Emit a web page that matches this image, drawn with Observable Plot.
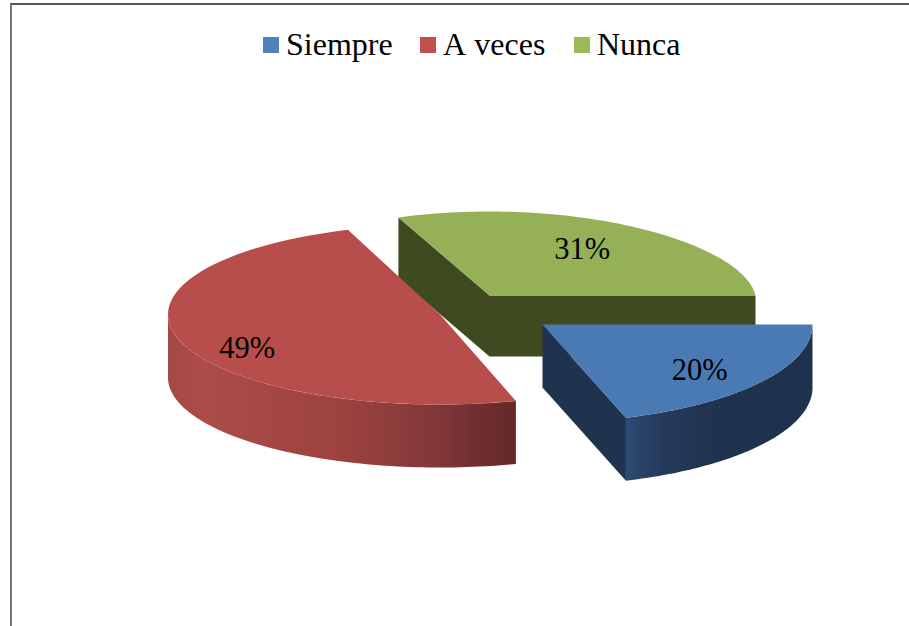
<!DOCTYPE html>
<html lang="es">
<head>
<meta charset="utf-8">
<script src="https://cdn.jsdelivr.net/npm/d3@7"></script>
<script src="https://cdn.jsdelivr.net/npm/@observablehq/plot@0.6"></script>
<style>
  html, body { margin: 0; padding: 0; background: #fff; }
  #page { position: relative; width: 909px; height: 626px; overflow: hidden; font-family: "Liberation Serif", serif; }
  #frame { position: absolute; left: 10px; top: 3px; width: 910px; height: 640px; border-left: 2px solid #777; border-top: 2px solid #555; box-sizing: border-box; pointer-events: none; }
  #legend { height: 70px; box-sizing: border-box; position: relative; }
  .item { position: absolute; top: 26px; display: flex; align-items: flex-start; font-size: 32px; line-height: 37px; word-spacing: 2px; color: #000; white-space: nowrap; }
  .swatch { width: 16px; height: 16px; margin-top: 11px; margin-right: 7px; }
  svg { display: block; }
</style>
</head>
<body>
<div id="page">
  <div id="legend"></div>
  <div id="chart"></div>
  <div id="frame"></div>
</div>
<script>
// Data
const categories = ["Siempre", "A veces", "Nunca"];
const shares = [20, 49, 31];
const labels = ["20%", "49%", "31%"];

// Styles
const legendColors = ["#4f81bd", "#c0504d", "#9bbb59"];
const topColors = ["#4a7ab4", "#b84e4b", "#95b056"];
const sideColors = ["#1f334f", "#7a3230", "#3f4a20"];
const legendSwatchX = [263, 420, 574];

// Layout of the exploded, tilted slices (page pixels)
const centerX = [542, 439.5, 489];
const centerY = [324, 314, 295];
const radiusX = [270, 272, 266];
const radiusY = [98, 90, 84];
const depth = [63, 63, 61];
const rotation = [0, 1.8, 0];        // degrees
const narrowing = [0, 0, 0.075];     // back of the slice looks smaller
const labelReachX = [0.72, 0.745, 0.62];
const labelReachY = [0.80, 1.2, 0.65];

const pageW = 909, pageH = 626, legendH = 70;

const arcs = d3.pie().sort(null).startAngle(Math.PI / 2).endAngle(Math.PI / 2 + 2 * Math.PI)(shares);

function rim(i, a) {
  const r = a + rotation[i] * Math.PI / 180;
  const f = 1 - narrowing[i] * Math.cos(r);
  return [centerX[i] + radiusX[i] * Math.sin(r) * f, centerY[i] - radiusY[i] * Math.cos(r)];
}
function arcPts(i, a0, a1, dy = 0) {
  return d3.range(0, 81).map(k => {
    const [x, y] = rim(i, a0 + (a1 - a0) * k / 80);
    return [x, y + dy];
  });
}
function topFace(i) {
  return [[centerX[i], centerY[i]], ...arcPts(i, arcs[i].startAngle, arcs[i].endAngle)];
}
function outerWall(i, a0, a1) {
  return [...arcPts(i, a0, a1), ...arcPts(i, a1, a0, depth[i])];
}
function flatWall(i, pts) {
  return [...pts, ...pts.slice().reverse().map(([x, y]) => [x, y + depth[i]])];
}

const [blue, red, green] = [0, 1, 2];
const apex = i => [centerX[i], centerY[i]];

const shapes = [
  // Green: inner faces
  { pts: flatWall(green, [rim(green, arcs[green].startAngle), apex(green), rim(green, arcs[green].endAngle)]), fill: sideColors[green] },
  { pts: topFace(green), fill: topColors[green] },
  // Red: outer wall, top
  { pts: outerWall(red, arcs[red].startAngle, 3 * Math.PI / 2 - rotation[red] * Math.PI / 180), fill: "url(#redWall)" },
  { pts: topFace(red), fill: topColors[red] },
  // Blue: inner face, outer wall, top
  { pts: flatWall(blue, [apex(blue), rim(blue, arcs[blue].endAngle)]), fill: sideColors[blue] },
  { pts: outerWall(blue, arcs[blue].startAngle, arcs[blue].endAngle), fill: "url(#blueWall)" },
  { pts: topFace(blue), fill: topColors[blue] }
];

const labelData = categories.map((c, i) => {
  const mid = (arcs[i].startAngle + arcs[i].endAngle) / 2 + rotation[i] * Math.PI / 180;
  return {
    text: labels[i],
    x: centerX[i] + radiusX[i] * labelReachX[i] * Math.sin(mid),
    y: centerY[i] - radiusY[i] * labelReachY[i] * Math.cos(mid) - (i === green ? 1 : 0)
  };
});

const stops = (id, x1, x2, list) => () => {
  const svgNS = "http://www.w3.org/2000/svg";
  const g = document.createElementNS(svgNS, "defs");
  const lg = document.createElementNS(svgNS, "linearGradient");
  lg.setAttribute("id", id);
  lg.setAttribute("gradientUnits", "userSpaceOnUse");
  lg.setAttribute("x1", x1); lg.setAttribute("x2", x2);
  lg.setAttribute("y1", 0); lg.setAttribute("y2", 0);
  for (const [o, c] of list) {
    const s = document.createElementNS(svgNS, "stop");
    s.setAttribute("offset", o); s.setAttribute("stop-color", c);
    lg.appendChild(s);
  }
  g.appendChild(lg);
  return g;
};

const chartNode = Plot.plot({
  width: pageW,
  height: pageH - legendH,
  margin: 0,
  x: { domain: [0, pageW], range: [0, pageW], axis: null },
  y: { domain: [legendH, pageH], range: [0, pageH - legendH], axis: null },
  marks: [
    stops("redWall", 168, 515, [[0, "#a44845"], [0.1, "#ad4c48"], [0.5, "#9c423f"], [0.75, "#84383a"], [1, "#632827"]]),
    stops("blueWall", 625, 812, [[0, "#2d4b72"], [0.2, "#25395a"], [0.5, "#1f334f"], [1, "#1e324e"]]),
    ...shapes.map(s => Plot.line(s.pts, { x: d => d[0], y: d => d[1], fill: s.fill, stroke: "none", curve: "linear" })),
    Plot.text(labelData, {
      x: "x", y: "y", text: "text",
      fontFamily: "Liberation Serif", fontSize: 30.5, fill: "#000", textAnchor: "middle"
    })
  ]
});
document.getElementById("chart").appendChild(chartNode);

const legendNode = document.getElementById("legend");
categories.forEach((c, i) => {
  const item = document.createElement("div");
  item.className = "item";
  item.style.left = legendSwatchX[i] + "px";
  const sw = document.createElement("span");
  sw.className = "swatch";
  sw.style.background = legendColors[i];
  const t = document.createElement("span");
  t.textContent = c;
  item.append(sw, t);
  legendNode.appendChild(item);
});
</script>
</body>
</html>
